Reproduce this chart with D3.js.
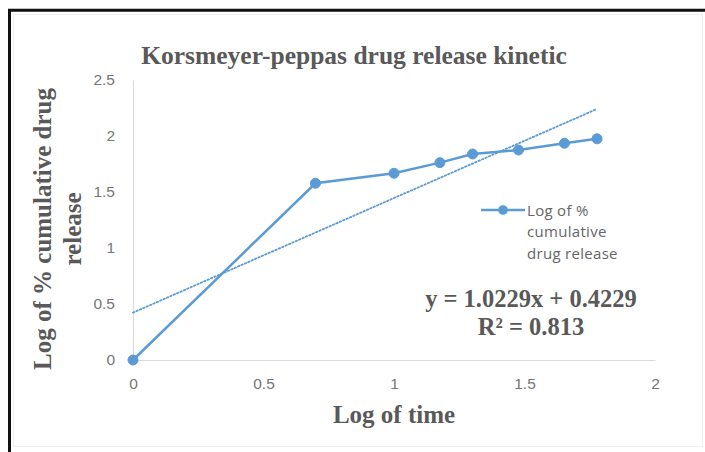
<!DOCTYPE html>
<html>
<head>
<meta charset="utf-8">
<script src="https://cdn.jsdelivr.net/npm/d3@7"></script>
<style>
  html, body { margin: 0; padding: 0; background: #fff; }
  svg { display: block; }
</style>
</head>
<body>
<svg id="chart" width="705" height="452"></svg>
<script>
// Korsmeyer-Peppas release data (log10 time vs log10 % cumulative release)
const logTime = [0, 0.699, 1, 1.176, 1.301, 1.477, 1.653, 1.778];
const logRelease = [0, 1.578, 1.667, 1.762, 1.839, 1.875, 1.935, 1.975];
const xTicks = [0, 0.5, 1, 1.5, 2];
const yTicks = [0, 0.5, 1, 1.5, 2, 2.5];
const trendSlope = 1.0229;
const trendIntercept = 0.4229;
const rSquared = 0.813;
const seriesName = ["Log of %", "cumulative", "drug release"];

const blue = "#5B9BD5";
const textGray = "#595959";
const tickGray = "#767676";
const axisGray = "#D9D9D9";
const serif = "'Liberation Serif', 'Times New Roman', serif";

const svg = d3.select("#chart");

// outer frame
svg.append("rect")
  .attr("x", 13.5).attr("y", 14.5).attr("width", 689).attr("height", 432)
  .attr("fill", "none").attr("stroke", "#efefef").attr("stroke-width", 1);
svg.append("path")
  .attr("d", "M9.5,460 V10.2 H720")
  .attr("fill", "none").attr("stroke", "#111").attr("stroke-width", 3);

const x = d3.scaleLinear().domain([0, 2]).range([133, 655]);
const y = d3.scaleLinear().domain([0, 2.5]).range([360, 80]);

// axes
const xAxis = svg.append("g").attr("transform", `translate(0,${y(0)})`)
  .call(d3.axisBottom(x).tickValues(xTicks).tickSize(0).tickPadding(18)
    .tickFormat(d3.format("")));
const yAxis = svg.append("g").attr("transform", `translate(${x(0)},0)`)
  .call(d3.axisLeft(y).tickValues(yTicks).tickSize(0).tickPadding(18)
    .tickFormat(d3.format("")));
[xAxis, yAxis].forEach(g => {
  g.select(".domain").attr("stroke", axisGray).attr("stroke-width", 1);
  g.selectAll("text")
    .attr("fill", tickGray)
    .style("font-family", "'Liberation Sans', Arial, sans-serif")
    .style("font-size", "15.5px");
});

// linear trendline over the data range
const xMin = d3.min(logTime), xMax = d3.max(logTime);
svg.append("line")
  .attr("x1", x(xMin)).attr("y1", y(trendIntercept + trendSlope * xMin))
  .attr("x2", x(xMax)).attr("y2", y(trendIntercept + trendSlope * xMax))
  .attr("stroke", blue).attr("stroke-width", 1.8)
  .attr("stroke-dasharray", "1.5,2.2").attr("stroke-linecap", "round");

// data series
const pts = logTime.map((t, i) => [t, logRelease[i]]);
svg.append("path")
  .datum(pts)
  .attr("fill", "none").attr("stroke", blue).attr("stroke-width", 2.5)
  .attr("d", d3.line().x(d => x(d[0])).y(d => y(d[1])));
svg.selectAll("circle.pt").data(pts).join("circle")
  .attr("class", "pt")
  .attr("cx", d => x(d[0])).attr("cy", d => y(d[1])).attr("r", 5)
  .attr("fill", blue).attr("stroke", blue).attr("stroke-width", 1);

// title
svg.append("text")
  .attr("x", 354).attr("y", 64).attr("text-anchor", "middle")
  .attr("fill", textGray)
  .style("font-family", serif).style("font-weight", "bold")
  .style("font-size", "25.5px")
  .text("Korsmeyer-peppas drug release kinetic");

// axis titles
svg.append("text")
  .attr("x", 394).attr("y", 423).attr("text-anchor", "middle")
  .attr("fill", textGray)
  .style("font-family", serif).style("font-weight", "bold")
  .style("font-size", "25px")
  .text("Log of time");

const yTitle = svg.append("text")
  .attr("transform", "translate(0,229) rotate(-90)")
  .attr("text-anchor", "middle")
  .attr("fill", textGray)
  .style("font-family", serif).style("font-weight", "bold")
  .style("font-size", "25px");
yTitle.append("tspan").attr("x", 0).attr("y", 51).text("Log of % cumulative drug");
yTitle.append("tspan").attr("x", 0).attr("y", 81).text("release");

// legend
const lg = svg.append("g");
lg.append("line").attr("x1", 481).attr("x2", 525).attr("y1", 210).attr("y2", 210)
  .attr("stroke", blue).attr("stroke-width", 2.5);
lg.append("circle").attr("cx", 503).attr("cy", 210).attr("r", 4.8).attr("fill", blue);
lg.selectAll("text").data(seriesName).join("text")
  .attr("x", 527).attr("y", (d, i) => 216 + i * 21.3)
  .attr("fill", "#666")
  .style("font-family", "'Open Sans', 'Liberation Sans', sans-serif")
  .style("font-size", "15px")
  .style("letter-spacing", "0.3px")
  .text(d => d);

// trendline equation, one text per line
const eqLines = [`y = ${trendSlope}x + ${trendIntercept}`, `R² = ${rSquared}`];
svg.selectAll("text.eq").data(eqLines).join("text")
  .attr("class", "eq")
  .attr("x", 531).attr("y", (d, i) => 307 + i * 28)
  .attr("text-anchor", "middle")
  .attr("fill", textGray)
  .style("font-family", serif).style("font-weight", "bold")
  .style("font-size", "24.5px")
  .text(d => d);
</script>
</body>
</html>
